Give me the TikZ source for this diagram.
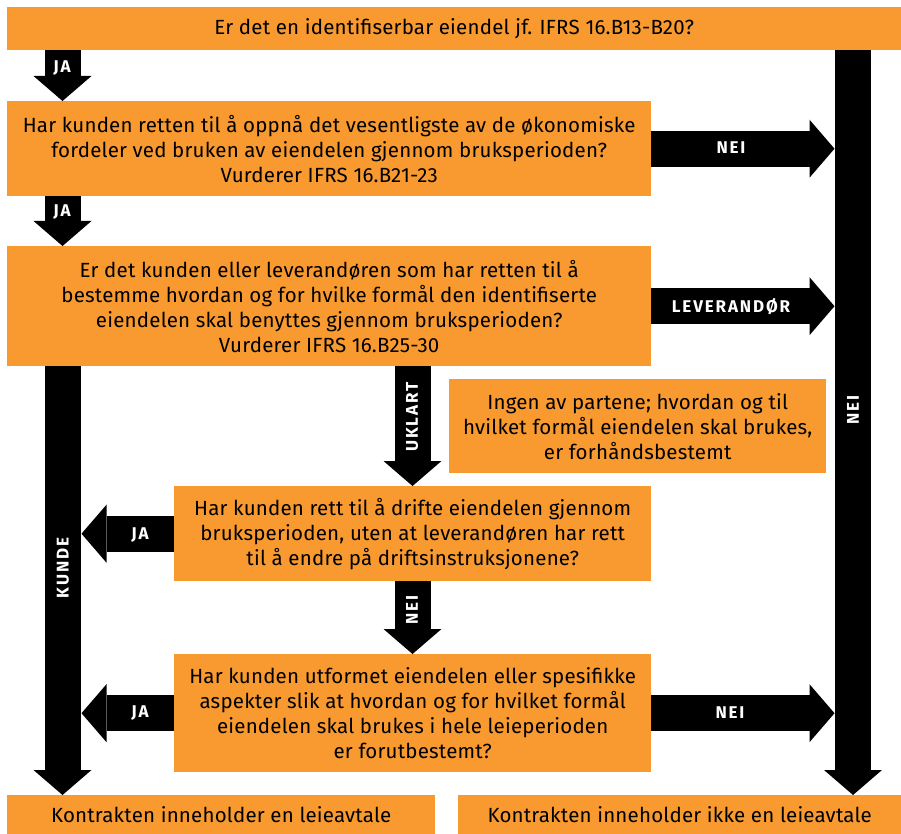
\documentclass[tikz,border=0pt]{standalone}
\usepackage{fontspec}
\setmainfont{Fira Sans}[LetterSpace=1]
\newfontfamily\lblfont[LetterSpace=11]{Fira Sans}
\usetikzlibrary{arrows.meta}
\definecolor{org}{RGB}{248,154,48}
\begin{document}
\begin{tikzpicture}[x=1pt,y=-1pt,
 box/.style={fill=org, inner sep=0pt, align=center, font=\fontsize{20.5}{25}\selectfont, anchor=north west},
 bigarrow/.style={line width=36pt, -{Triangle[width=58pt,length=25pt,line width=0pt]}},
 lbl/.style={text=white, font=\lblfont\bfseries\fontsize{17}{17}\selectfont, inner sep=0pt}]
\useasboundingbox (0,0) rectangle (901,834);

\node[box, minimum width=894pt, minimum height=43pt] (q0) at (7,7) {Er det en identifiserbar eiendel jf. IFRS 16.B13-B20?};
\node[box, minimum width=644pt, minimum height=95pt] (q1) at (7,101) {Har kunden retten til å oppnå det vesentligste av de økonomiske\\fordeler ved bruken av eiendelen gjennom bruksperioden?\\Vurderer IFRS 16.B21-23};
\node[box, minimum width=644pt, minimum height=120pt] (q2) at (7,246) {Er det kunden eller leverandøren som har retten til å\\bestemme hvordan og for hvilke formål den identifiserte\\eiendelen skal benyttes gjennom bruksperioden?\\Vurderer IFRS 16.B25-30};
\node[box, minimum width=377pt, minimum height=94pt] (info) at (449,379) {Ingen av partene; hvordan og til\\hvilket formål eiendelen skal brukes,\\er forhåndsbestemt};
\node[box, minimum width=477pt, minimum height=95pt] (q3) at (174,486) {Har kunden rett til å drifte eiendelen gjennom\\bruksperioden, uten at leverandøren har rett\\til å endre på driftsinstruksjonene?};
\node[box, minimum width=477pt, minimum height=118pt] (q4) at (174,654) {Har kunden utformet eiendelen eller spesifikke\\aspekter slik at hvordan og for hvilket formål\\eiendelen skal brukes i hele leieperioden\\er forutbestemt?};
\node[box, minimum width=428pt, minimum height=39pt] (yes) at (7,795) {Kontrakten inneholder en leieavtale};
\node[box, minimum width=443pt, minimum height=39pt] (no) at (458,795) {Kontrakten inneholder ikke en leieavtale};

\coordinate (kx) at (62.5,0);
\coordinate (rx) at (853,0);
\coordinate (ux) at (412.5,0);
\coordinate (barL) at (834.5,0);
\coordinate (kR) at (81.5,0);

\draw[bigarrow] (q0.south -| kx) -- (q1.north -| kx);
\draw[bigarrow] (q1.south -| kx) -- (q2.north -| kx);
\draw[bigarrow] (q2.south -| kx) -- (yes.north -| kx);
\draw[bigarrow] (q0.south -| rx) -- (no.north -| rx);
\draw[bigarrow] (q1.east) -- (q1.east -| barL);
\draw[bigarrow] (q2.east) -- (q2.east -| barL);
\draw[bigarrow] (q4.east) -- (q4.east -| barL);
\draw[bigarrow] (q2.south -| ux) -- (q3.north -| ux);
\draw[bigarrow] (q3.south -| ux) -- (q4.north -| ux);
\draw[bigarrow] (q3.west) -- (q3.west -| kR);
\draw[bigarrow] (q4.west) -- (q4.west -| kR);

\node[lbl] (l1) at (62,68) {JA};
\node[lbl] (l2) at (62,212) {JA};
\node[lbl] (l3) at (731,148) {NEI};
\node[lbl] (l4) at (731,307) {LEVERANDØR};
\node[lbl, rotate=90] (l5) at (412,417) {UKLART};
\node[lbl, rotate=90] (l6) at (853,410) {NEI};
\node[lbl, rotate=90] (l7) at (63,568) {KUNDE};
\node[lbl] (l8) at (140,535) {JA};
\node[lbl, rotate=90] (l9) at (412,610) {NEI};
\node[lbl] (l10) at (140,713) {JA};
\node[lbl] (l11) at (730,713) {NEI};
\end{tikzpicture}
\end{document}
